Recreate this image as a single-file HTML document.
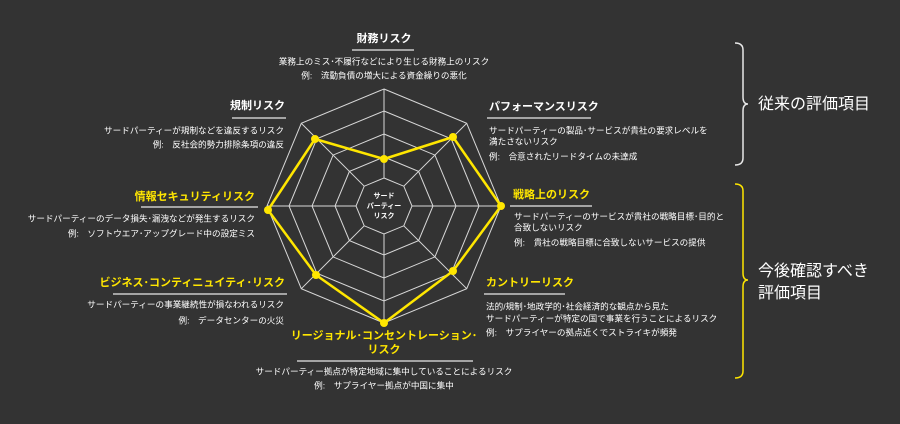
<!DOCTYPE html>
<html><head><meta charset="utf-8"><style>
html,body{margin:0;padding:0;background:#333333;}
svg{display:block}
text{font-family:"Liberation Sans","Noto Sans CJK JP",sans-serif;fill:#fff;dominant-baseline:middle}
.t{font-size:11px;font-weight:bold}
.y{fill:#ffe600}
.d{font-size:8.6px}
</style></head><body>
<svg width="900" height="424" viewBox="0 0 900 424" xmlns="http://www.w3.org/2000/svg">
<rect width="900" height="424" fill="#333333"/>
<g fill="none" stroke="#d8d8d8" stroke-width="1">
<polygon points="384,89 466.7,123.3 501,206 466.7,288.7 384,323 301.3,288.7 267,206 301.3,123.3"/>
<polygon points="384,111 451.2,138.8 479,206 451.2,273.2 384,301 316.8,273.2 289,206 316.8,138.8"/>
<polygon points="384,134 434.9,155.1 456,206 434.9,256.9 384,278 333.1,256.9 312,206 333.1,155.1"/>
<polygon points="384,157 418.6,171.4 433,206 418.6,240.6 384,255 349.4,240.6 335,206 349.4,171.4"/>
<polygon points="384,178 403.8,186.2 412,206 403.8,225.8 384,234 364.2,225.8 356,206 364.2,186.2"/>
<line x1="384" y1="178" x2="384" y2="89"/><line x1="384" y1="234" x2="384" y2="323"/>
<line x1="412" y1="206" x2="501" y2="206"/><line x1="356" y1="206" x2="267" y2="206"/>
<line x1="403.8" y1="186.2" x2="466.7" y2="123.3"/><line x1="364.2" y1="225.8" x2="301.3" y2="288.7"/>
<line x1="403.8" y1="225.8" x2="466.7" y2="288.7"/><line x1="364.2" y1="186.2" x2="301.3" y2="123.3"/>
</g>
<polygon points="384,159 453,137 501,206 453,271 384,323 316,275 268,210 315,139" fill="none" stroke="#ffe600" stroke-width="2.5" stroke-linejoin="round"/>
<g fill="#ffe600">
<circle cx="384" cy="159" r="4"/><circle cx="453" cy="137" r="4"/><circle cx="501" cy="206" r="4"/><circle cx="453" cy="271" r="4"/>
<circle cx="384" cy="323" r="4"/><circle cx="316" cy="275" r="4"/><circle cx="268" cy="210" r="4"/><circle cx="315" cy="139" r="4"/>
</g>
<g text-anchor="middle" font-size="7" font-weight="bold">
<text x="384" y="196" style="font-size:7px">サード</text>
<text x="384" y="206" style="font-size:7px">パーティー</text>
<text x="384" y="216" style="font-size:7px">リスク</text>
</g>
<g stroke="#e8e8e8" stroke-width="1.2">
<line x1="352" y1="50" x2="414" y2="50"/>
<line x1="232" y1="118" x2="286" y2="118"/>
<line x1="141" y1="207" x2="258" y2="207"/>
<line x1="113" y1="294" x2="287" y2="294"/>
<line x1="487" y1="118" x2="591" y2="118"/>
<line x1="510" y1="206" x2="592" y2="206"/>
<line x1="484" y1="294" x2="565" y2="294"/>
<line x1="297" y1="361" x2="473" y2="361"/>
</g>
<g text-anchor="middle">
<text class="t" x="384" y="39">財務リスク</text>
<text class="d" x="384" y="62">業務上のミス･不履行などにより生じる財務上のリスク</text>
<text class="d" x="384" y="76">例:　流動負債の増大による資金繰りの悪化</text>
<text class="t y" x="384" y="336">リージョナル･コンセントレーション･</text>
<text class="t y" x="384" y="350">リスク</text>
<text class="d" x="384" y="372">サードパーティー拠点が特定地域に集中していることによるリスク</text>
<text class="d" x="384" y="386">例:　サプライヤー拠点が中国に集中</text>
</g>
<g text-anchor="end">
<text class="t" x="285" y="106">規制リスク</text>
<text class="d" x="284" y="131">サードパーティーが規制などを違反するリスク</text>
<text class="d" x="284" y="145">例:　反社会的勢力排除条項の違反</text>
<text class="t y" x="255" y="197">情報セキュリティリスク</text>
<text class="d" x="255" y="219">サードパーティーのデータ損失･漏洩などが発生するリスク</text>
<text class="d" x="255" y="234">例:　ソフトウエア･アップグレード中の設定ミス</text>
<text class="t y" x="285" y="283">ビジネス･コンティニュイティ･リスク</text>
<text class="d" x="284" y="305">サードパーティーの事業継続性が損なわれるリスク</text>
<text class="d" x="284" y="321">例:　データセンターの火災</text>
</g>
<g>
<text class="t" x="489" y="107">パフォーマンスリスク</text>
<text class="d" x="489" y="131">サードパーティーの製品･サービスが貴社の要求レベルを</text>
<text class="d" x="489" y="142">満たさないリスク</text>
<text class="d" x="489" y="157">例:　合意されたリードタイムの未達成</text>
<text class="t y" x="513" y="195">戦略上のリスク</text>
<text class="d" x="514" y="217">サードパーティーのサービスが貴社の戦略目標･目的と</text>
<text class="d" x="514" y="228">合致しないリスク</text>
<text class="d" x="514" y="243">例:　貴社の戦略目標に合致しないサービスの提供</text>
<text class="t y" x="486" y="283">カントリーリスク</text>
<text class="d" x="486" y="307">法的/規制･地政学的･社会経済的な観点から見た</text>
<text class="d" x="486" y="319">サードパーティーが特定の国で事業を行うことによるリスク</text>
<text class="d" x="486" y="333">例:　サプライヤーの拠点近くでストライキが頻発</text>
</g>
<path d="M735,43 Q743,43 743,50 L743,97 Q743,104 748,104 Q743,104 743,111 L743,158 Q743,165 735,165" fill="none" stroke="#e8e8e8" stroke-width="1.5"/>
<path d="M735,184 Q743,184 743,191 L743,273 Q743,280 748,280 Q743,280 743,287 L743,371 Q743,378 735,378" fill="none" stroke="#ffe600" stroke-width="1.5"/>
<text x="758" y="105" style="font-size:16px">従来の評価項目</text>
<text x="758" y="272" style="font-size:16px">今後確認すべき</text>
<text x="758" y="294" style="font-size:16px">評価項目</text>
</svg>
</body></html>
